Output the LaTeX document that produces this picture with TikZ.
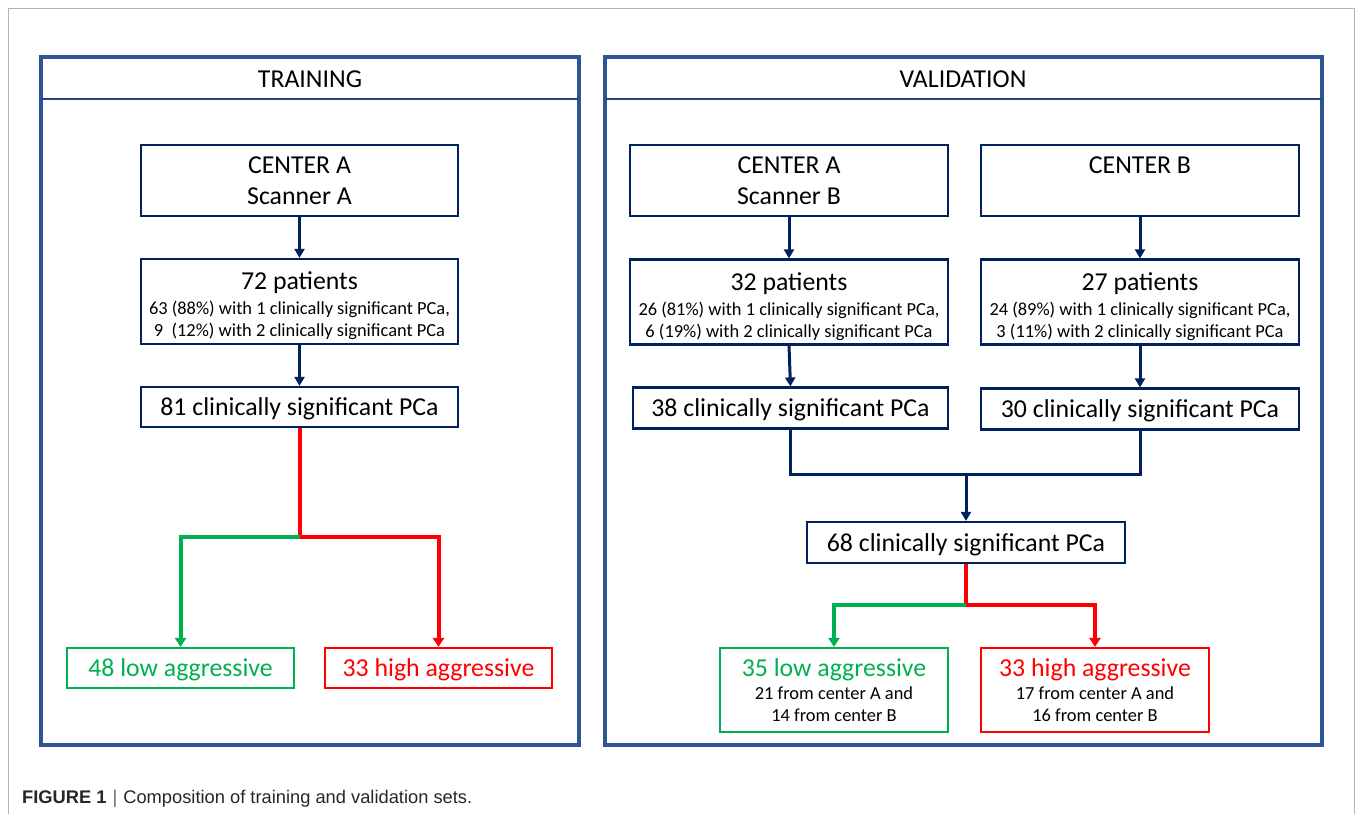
\documentclass[tikz,border=0pt]{standalone}
\usepackage{fontspec}
\setmainfont{Carlito}
\newfontfamily\capfont{Liberation Sans}
\usetikzlibrary{arrows.meta}
\definecolor{navy}{HTML}{002060}
\definecolor{panelblue}{HTML}{2F5597}
\definecolor{okgreen}{HTML}{00B050}
\definecolor{okred}{HTML}{FF0000}
\newcommand\bigf{\fontsize{25.8}{22}\selectfont}
\newcommand\smallf{\fontsize{18.4}{22}\selectfont}
\newcommand\tallrow{\rule{0pt}{26.5pt}}
\begin{document}
\begin{tikzpicture}[x=1pt,y=-1pt,
  boxn/.style={draw=navy,line width=2.2pt,inner sep=0pt,align=center,font=\bigf,text=black},
  greenbox/.style={draw=okgreen,line width=2.2pt,inner sep=0pt,align=center,font=\bigf,text=okgreen},
  redbox/.style={draw=okred,line width=2.2pt,inner sep=0pt,align=center,font=\bigf,text=okred},
  oneline/.style={text height=22.5pt,text depth=5.5pt},
  panel/.style={draw=panelblue,line width=4pt},
  divider/.style={draw=panelblue!70!navy,line width=2pt},
  navyarrow/.style={draw=navy,line width=3pt,-{Triangle[width=10pt,length=9pt]}},
  navyline/.style={draw=navy,line width=3pt},
  redarrow/.style={draw=okred,line width=4pt,-{Triangle[width=11pt,length=9pt]}},
  greenarrow/.style={draw=okgreen,line width=4pt,-{Triangle[width=11pt,length=9pt]}},
  header/.style={font=\bigf,text=black,anchor=base},
  frameline/.style={draw=black!30,line width=1pt}
]
\useasboundingbox (0,0) rectangle (1355,814);
% outer light frame
\draw[frameline] (8.5,814) -- (8.5,8.5) -- (1354,8.5) -- (1354,814);

% panels
\draw[panel] (41,57) rectangle (579,745);
\draw[divider] (41,99) -- (579,99);
\node[header] (trainhdr) at (310,87) {TRAINING};

\draw[panel] (605,57) rectangle (1322,745);
\draw[divider] (605,99) -- (1322,99);
\node[header] (valhdr) at (963,87) {VALIDATION};

% training
\node[boxn,minimum width=317pt,minimum height=71pt] (cA1) at (299.5,180.5) {CENTER A\\[9pt]Scanner A};
\node[boxn,minimum width=317pt,minimum height=85pt] (p72) at (299.5,301.5)
  {\tallrow 72 patients\\[3pt]\smallf 63 (88\%) with 1 clinically significant PCa,\\\smallf 9\ \ (12\%) with 2 clinically significant PCa};
\node[boxn,oneline,minimum width=317pt,minimum height=40pt] (s81) at (299.5,407) {81 clinically significant PCa};
\node[greenbox,oneline,minimum width=227pt,minimum height=40pt] (low48) at (180.5,668) {48 low aggressive};
\node[redbox,oneline,minimum width=227pt,minimum height=40pt] (high33t) at (438.5,668) {33 high aggressive};

\coordinate (splitT) at (299.5,537);
\draw[navyarrow] (cA1) -- (p72);
\draw[navyarrow] (p72) -- (s81);
\draw[redarrow] (s81.south) -- (splitT) -| (high33t.north);
\draw[greenarrow] (splitT) -| (low48.north);

% validation
\node[boxn,minimum width=318pt,minimum height=71pt] (cA2) at (789,180.5) {CENTER A\\[9pt]Scanner B};
\node[boxn,minimum width=318pt,minimum height=71pt] (cB) at (1140,180.5) {CENTER B\\[9pt]\phantom{Scanner B}};
\node[boxn,minimum width=318pt,minimum height=85pt] (p32) at (789,302)
  {\tallrow 32 patients\\[3pt]\smallf 26 (81\%) with 1 clinically significant PCa,\\\smallf 6 (19\%) with 2 clinically significant PCa};
\node[boxn,minimum width=318pt,minimum height=85pt] (p27) at (1140,302)
  {\tallrow 27 patients\\[3pt]\smallf 24 (89\%) with 1 clinically significant PCa,\\\smallf 3 (11\%) with 2 clinically significant PCa};
\node[boxn,oneline,minimum width=315pt,minimum height=41pt] (s38) at (790.5,408) {38 clinically significant PCa};
\node[boxn,oneline,minimum width=318pt,minimum height=41pt] (s30) at (1140,409) {30 clinically significant PCa};
\node[boxn,oneline,minimum width=318pt,minimum height=41pt] (s68) at (966,542.5) {68 clinically significant PCa};
\node[greenbox,minimum width=228pt,minimum height=84pt] (low35) at (834,690)
  {35 low aggressive\\[1pt]\smallf\color{black}21 from center A and\\\smallf\color{black}14 from center B};
\node[redbox,minimum width=228pt,minimum height=84pt] (high33v) at (1095,690)
  {33 high aggressive\\[1pt]\smallf\color{black}17 from center A and\\\smallf\color{black}16 from center B};

\draw[navyarrow] (cA2) -- (p32);
\draw[navyarrow] (cB) -- (p27);
\draw[navyarrow] (p32.south) -- (s38.north);
\draw[navyarrow] (p27) -- (s30);
\coordinate (mergeL) at (790.5,474);
\coordinate (mergeR) at (1140,474);
\coordinate (mergeC) at (966,474);
\draw[navyline] (s38.south) -- (mergeL) -- (mergeR) -- (s30.south);
\draw[navyarrow] (mergeC) -- (s68.north);
\coordinate (splitV) at (966,605);
\draw[redarrow] (s68.south) -- (splitV) -| (high33v.north);
\draw[greenarrow] (splitV) -| (low35.north);

% caption
\node[anchor=base west,inner sep=0pt,font=\capfont\fontsize{18.3}{22}\selectfont,text=black!85] (caption) at (22,803)
  {\textbf{FIGURE 1}\hspace{6pt}\textcolor{black!60}{|}\hspace{6pt}Composition of training and validation sets.};
\end{tikzpicture}
\end{document}
